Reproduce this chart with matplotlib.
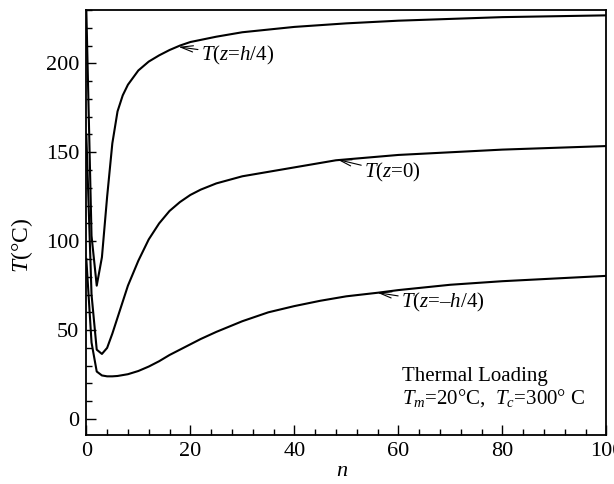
import matplotlib
matplotlib.use("Agg")
import matplotlib.pyplot as plt
from matplotlib.ticker import MultipleLocator

plt.rcParams['font.family'] = ['Liberation Serif', 'DejaVu Serif']
plt.rcParams['mathtext.fontset'] = 'custom'
plt.rcParams['mathtext.rm'] = 'Liberation Serif'
plt.rcParams['mathtext.it'] = 'Liberation Serif:italic'

# ---- data ----
n_top = [0, 1, 2, 3, 4, 5, 6, 7, 8, 9, 10, 12, 14, 16, 18, 20, 25, 30, 40, 50, 60, 70, 80, 90, 100]
T_top = [230, 103, 75, 91, 125, 155, 173, 182, 188, 192, 196, 201, 204.5, 207.5, 210, 212,
         215, 217.5, 220.5, 222.5, 224, 225, 226, 226.5, 227]

n_mid = [0, 1, 2, 3, 4, 5, 6, 7, 8, 9, 10, 12, 14, 16, 18, 20, 22, 25, 30, 40, 48, 60, 70, 80, 90, 100]
T_mid = [160, 70, 39, 36.6, 40, 48, 57, 66, 75, 82, 89, 101, 110, 117, 122, 126, 129, 132.5,
         136.5, 141.5, 145.5, 148.5, 150, 151.5, 152.5, 153.5]

n_bot = [0, 1, 2, 3, 4, 5, 6, 8, 10, 12, 14, 16, 18, 20, 22, 25, 30, 35, 40, 45, 50, 56, 60, 70, 80, 90, 100]
T_bot = [90, 43, 26.7, 24.5, 24, 24, 24.2, 25.2, 27, 29.5, 32.5, 36, 39, 42, 45, 49, 55, 60,
         63.5, 66.5, 69, 71, 72.5, 75.5, 77.5, 79, 80.5]

x_ticks = [0, 20, 40, 60, 80, 100]
y_ticks = [0, 50, 100, 150, 200]

fig = plt.figure(figsize=(6.14, 4.84), dpi=100)
ax = fig.add_axes([0.1406, 0.1012, 0.8469, 0.8781])

for n, T in [(n_top, T_top), (n_mid, T_mid), (n_bot, T_bot)]:
    ax.plot(n, T, color='black', lw=1.5)

ax.set_xlim(0, 100)
ax.set_ylim(-9, 230)
ax.set_xticks(x_ticks)
ax.set_yticks(y_ticks)
ax.xaxis.set_minor_locator(MultipleLocator(4))
ax.yaxis.set_minor_locator(MultipleLocator(10))
ax.tick_params(which='both', direction='in', top=False, right=False, labelsize=16, width=1.0)
ax.tick_params(which='major', length=7)
ax.tick_params(which='minor', length=4.5)
for s in ax.spines.values():
    s.set_linewidth(1.3)
ax.tick_params(axis='x', pad=5)
ax.tick_params(axis='y', pad=5)

fig.text(0.557, 0.0248, r'$n$', fontsize=16, ha='center', va='center')
fig.text(0.0366, 0.4938, r'$T$(°C)', fontsize=17, ha='center', va='center', rotation=90)

ap = dict(arrowstyle='->,head_length=0.6,head_width=0.15', lw=0.8, color='black',
          shrinkA=0, shrinkB=0)
ax.annotate(r'$T$($z$=$h$/4)', xy=(17.7, 209.3), xytext=(22.0, 204.7), fontsize=15,
            va='center', ha='left', arrowprops=ap)
ax.annotate(r'$T$($z$=0)', xy=(48.2, 146), xytext=(53.4, 138.5), fontsize=15,
            va='center', ha='left', arrowprops=ap)
ax.annotate(r'$T$($z$=–$h$/4)', xy=(55.9, 71.1), xytext=(60.5, 65.3), fontsize=15,
            va='center', ha='left', arrowprops=ap)

ax.text(60.8, 24, 'Thermal Loading', fontsize=15, va='center', ha='left')
ax.text(60.8, 11.8, r'$T_m$=20°C,  $T_c$=300° C', fontsize=15, va='center', ha='left')

fig.savefig('out.png', dpi=100)
